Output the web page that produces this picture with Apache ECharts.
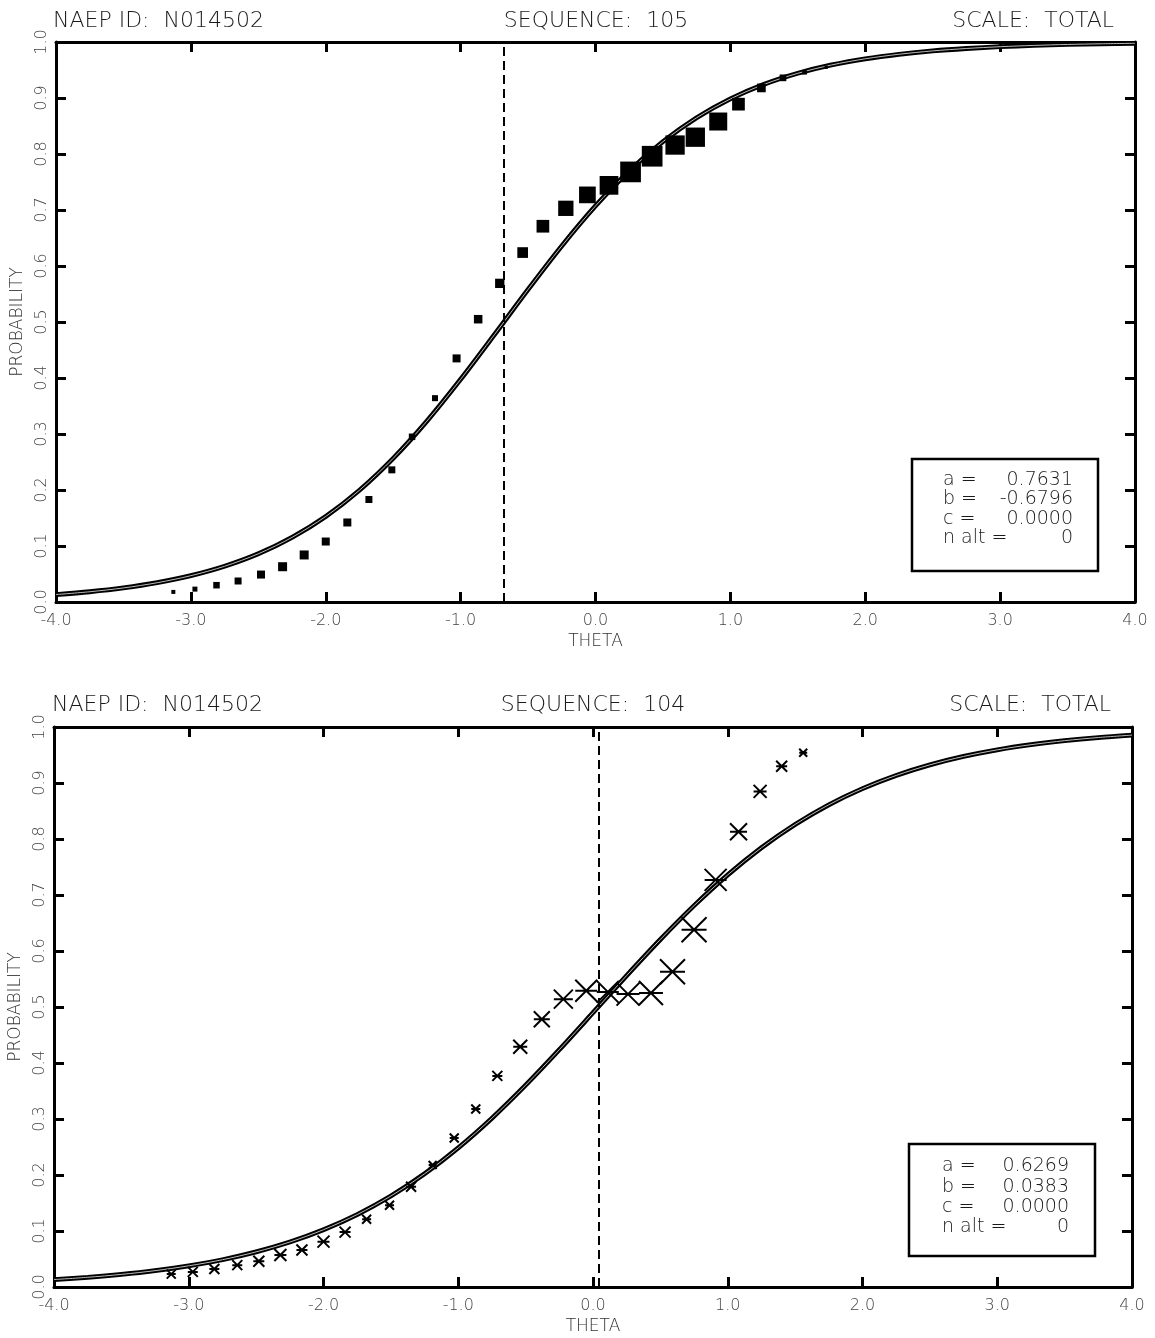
<!DOCTYPE html>
<html><head><meta charset="utf-8">
<script src="https://cdn.jsdelivr.net/npm/echarts@6/dist/echarts.min.js"></script>
<style>html,body{margin:0;padding:0;background:#fff}#c{width:1155px;height:1338px}</style>
</head><body><div id="c"></div>
<script>
// ---------- data ----------
const topTitles = ['NAEP ID:  N014502', 'SEQUENCE:  105', 'SCALE:  TOTAL'];
const bottomTitles = ['NAEP ID:  N014502', 'SEQUENCE:  104', 'SCALE:  TOTAL'];
const xAxisName = 'THETA';
const yAxisName = 'PROBABILITY';
const paramLabels = ['a =', 'b =', 'c =', 'n alt ='];
const topParams = ['0.7631', '-0.6796', '0.0000', '0'];
const bottomParams = ['0.6269', '0.0383', '0.0000', '0'];
const topB = -0.6796;
const bottomB = 0.0383;

const curveTheta = [-4,-3.75,-3.5,-3.25,-3,-2.75,-2.5,-2.25,-2,-1.75,-1.5,-1.25,-1,-0.75,-0.5,-0.25,0,0.25,0.5,0.75,1,1.25,1.5,1.75,2,2.25,2.5,2.75,3,3.25,3.5,3.75,4];
const topCurve = [0.0133,0.0183,0.0251,0.0344,0.0470,0.0638,0.0861,0.1154,0.1528,0.1996,0.2565,0.3230,0.3976,0.4772,0.5580,0.6358,0.7072,0.7696,0.8220,0.8647,0.8983,0.9244,0.9441,0.9590,0.9700,0.9781,0.9841,0.9884,0.9916,0.9939,0.9956,0.9968,0.9977];
const bottomCurve = [0.0133,0.0173,0.0225,0.0292,0.0378,0.0487,0.0627,0.0803,0.1023,0.1294,0.1625,0.2021,0.2485,0.3015,0.3604,0.4238,0.4898,0.5562,0.6206,0.6810,0.7359,0.7844,0.8260,0.8611,0.8900,0.9135,0.9324,0.9474,0.9592,0.9684,0.9756,0.9812,0.9855];

const topTheta = [-3.13,-2.97,-2.81,-2.65,-2.48,-2.32,-2.16,-2.00,-1.84,-1.68,-1.51,-1.36,-1.19,-1.03,-0.87,-0.71,-0.54,-0.39,-0.22,-0.06,0.10,0.26,0.42,0.59,0.74,0.91,1.06,1.23,1.39,1.55,1.71];
const topProb = [0.018,0.023,0.030,0.0375,0.049,0.063,0.084,0.108,0.142,0.183,0.236,0.295,0.364,0.435,0.505,0.569,0.624,0.671,0.703,0.727,0.744,0.768,0.796,0.816,0.830,0.858,0.889,0.918,0.936,0.946,0.955];
const topN = [4,5,6.5,7,8,9,9,8,8,7,7,6.5,6,8,8.5,9.3,10.7,12.7,15.3,16.7,18.7,20.7,20.7,19.3,19.3,18,12.7,8.7,6.7,4.7,3.3];

const bottomTheta = [-3.13,-2.97,-2.81,-2.64,-2.48,-2.32,-2.16,-2.00,-1.84,-1.68,-1.51,-1.35,-1.19,-1.03,-0.87,-0.71,-0.54,-0.38,-0.22,-0.05,0.11,0.26,0.43,0.59,0.75,0.91,1.08,1.24,1.40,1.56];
const bottomProb = [0.023,0.027,0.032,0.039,0.046,0.057,0.066,0.081,0.098,0.121,0.146,0.179,0.218,0.266,0.318,0.377,0.429,0.478,0.514,0.529,0.527,0.523,0.525,0.563,0.638,0.727,0.813,0.885,0.930,0.954];
const bottomN = [9,10,10,10,11,12,11,12,11,9,9,10,8,9,9,10,14,16,19,22,22,23,24,25,25,22,17,13,11,8];

// ---------- chart ----------
const FONT = '"DejaVu Sans", "Liberation Sans", sans-serif';
const chart = echarts.init(document.getElementById('c'), null, {renderer: 'canvas'});

const grids = [
  {left: 56, right: 20, top: 42, height: 560, outerBoundsMode: 'none', containLabel: false},
  {left: 54, right: 23, top: 727, height: 560, outerBoundsMode: 'none', containLabel: false}
];

const lineSt = {color: '#000', width: 3};
const tickSt = {show: true, inside: true, length: 10, lineStyle: {color: '#000', width: 3}};
const labelSt = {color: '#444', fontSize: 16, fontFamily: FONT, fontWeight: 200};

function xAxes(g) {
  return [
    {type: 'value', gridIndex: g, min: -4, max: 4, interval: 1, position: 'bottom',
     axisLine: {show: true, onZero: false, lineStyle: lineSt}, axisTick: tickSt,
     axisLabel: Object.assign({formatter: v => v.toFixed(1), margin: 11, showMinLabel: true, showMaxLabel: true}, labelSt),
     splitLine: {show: false},
     name: xAxisName, nameLocation: 'middle', nameGap: 31,
     nameTextStyle: {color: '#333', fontSize: 17, fontFamily: FONT, fontWeight: 200}},
    {type: 'value', gridIndex: g, min: -4, max: 4, interval: 1, position: 'top',
     axisLine: {show: true, onZero: false, lineStyle: lineSt}, axisTick: tickSt,
     axisLabel: {show: false}, splitLine: {show: false}}
  ];
}
function yAxes(g) {
  return [
    {type: 'value', gridIndex: g, min: 0, max: 1, interval: 0.1, position: 'left',
     axisLine: {show: true, onZero: false, lineStyle: lineSt}, axisTick: tickSt,
     axisLabel: Object.assign({formatter: v => v.toFixed(1), rotate: 90, margin: 6, showMinLabel: true, showMaxLabel: true}, labelSt),
     splitLine: {show: false},
     name: yAxisName, nameLocation: 'middle', nameGap: 26,
     nameTextStyle: {color: '#333', fontSize: 17, fontFamily: FONT, fontWeight: 200}},
    {type: 'value', gridIndex: g, min: 0, max: 1, interval: 0.1, position: 'right',
     axisLine: {show: true, onZero: false, lineStyle: lineSt}, axisTick: tickSt,
     axisLabel: {show: false}, splitLine: {show: false}}
  ];
}

function curveSeries(g, vals, b) {
  const data = curveTheta.map((t, i) => [t, vals[i]]);
  return [
    {type: 'line', xAxisIndex: g * 2, yAxisIndex: g * 2, data, smooth: 0.3, showSymbol: false, silent: true,
     lineStyle: {color: '#000', width: 4.8}, z: 2,
     markLine: {symbol: 'none', silent: true, label: {show: false}, animation: false,
       lineStyle: {type: [9, 5], width: 2, color: '#000'}, data: [{xAxis: b}]}},
    {type: 'line', xAxisIndex: g * 2, yAxisIndex: g * 2, data, smooth: 0.3, showSymbol: false, silent: true,
     lineStyle: {color: '#bbb', width: 1}, z: 3}
  ];
}

const topPoints = topTheta.map((t, i) => ({value: [t, topProb[i]], symbolSize: topN[i]}));
const bottomPoints = bottomTheta.map((t, i) => ({value: [t, bottomProb[i]], symbolSize: bottomN[i]}));

function titleTexts(titles, y, xs) {
  const aligns = ['left', 'center', 'right'];
  return titles.map((t, i) => ({type: 'text', x: xs[i], y: y,
    style: {text: t, fill: '#1a1a1a', font: '200 22px ' + FONT, textAlign: aligns[i], textVerticalAlign: 'middle'}}));
}
function paramBox(rect, labelX, valueX, y0, dy, values) {
  const els = [{type: 'rect', shape: rect, style: {fill: '#fff', stroke: '#000', lineWidth: 2.5}, z: 100}];
  paramLabels.forEach((l, i) => {
    els.push({type: 'text', x: labelX, y: y0 + i * dy, z: 101,
      style: {text: l, fill: '#1a1a1a', font: '200 19px ' + FONT, textAlign: 'left', textVerticalAlign: 'middle'}});
    els.push({type: 'text', x: valueX, y: y0 + i * dy, z: 101,
      style: {text: values[i], fill: '#1a1a1a', font: '200 19px ' + FONT, textAlign: 'right', textVerticalAlign: 'middle'}});
  });
  return els;
}

const option = {
  animation: false,
  backgroundColor: '#fff',
  grid: grids,
  xAxis: xAxes(0).concat(xAxes(1)),
  yAxis: yAxes(0).concat(yAxes(1)),
  series: [
    ...curveSeries(0, topCurve, topB),
    {type: 'scatter', xAxisIndex: 0, yAxisIndex: 0, data: topPoints, symbol: 'rect',
     itemStyle: {color: '#000', opacity: 1}, z: 5},
    ...curveSeries(1, bottomCurve, bottomB),
    {type: 'scatter', xAxisIndex: 2, yAxisIndex: 2, data: bottomPoints,
     symbol: 'path://M0 0L20 20M20 0L0 20M0 10L20 10',
     itemStyle: {color: 'rgba(0,0,0,0)', borderColor: '#000', borderWidth: 2, opacity: 1}, z: 5}
  ],
  graphic: [
    ...titleTexts(topTitles, 21, [53, 596, 1114]),
    ...titleTexts(bottomTitles, 705, [52, 593, 1111]),
    ...paramBox({x: 912, y: 459, width: 186, height: 112}, 943, 1073, 480, 19.4, topParams),
    ...paramBox({x: 909, y: 1144, width: 186, height: 112}, 942, 1069, 1166.5, 20.2, bottomParams)
  ]
};
chart.setOption(option);
</script>
</body></html>
